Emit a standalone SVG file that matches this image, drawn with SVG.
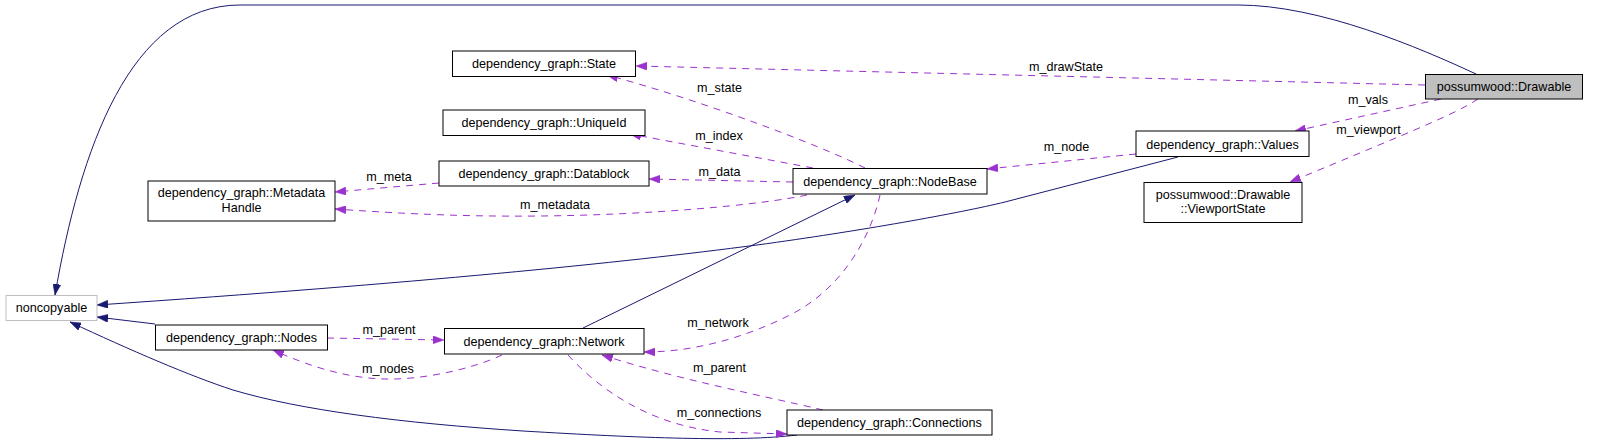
<svg xmlns="http://www.w3.org/2000/svg" width="1605" height="446" viewBox="0 0 1605 446">
<style>
  .box { fill: #ffffff; stroke: #000000; stroke-width: 1; }
  .root { fill: #bfbfbf; stroke: #000000; stroke-width: 1; }
  .ext { fill: #ffffff; stroke: #bfbfbf; stroke-width: 1; }
  text { font-family: "Liberation Sans", Arial, sans-serif; font-size: 12.6px; fill: #000000; text-anchor: middle; }
  .inh { fill: none; stroke: #191970; stroke-width: 1; marker-end: url(#arrNavy); }
  .use { fill: none; stroke: #9a32cd; stroke-width: 1; stroke-dasharray: 7,6; marker-end: url(#arrPurple); }
</style>
<defs>
  <marker id="arrNavy" viewBox="0 0 11 8" refX="11" refY="4" markerWidth="11" markerHeight="8" markerUnits="userSpaceOnUse" orient="auto">
    <path d="M0,0 L11,4 L0,8 z" fill="#191970" stroke="#191970" stroke-width="0.5"/>
  </marker>
  <marker id="arrPurple" viewBox="0 0 11 8" refX="11" refY="4" markerWidth="11" markerHeight="8" markerUnits="userSpaceOnUse" orient="auto">
    <path d="M0,0 L11,4 L0,8 z" fill="#9a32cd" stroke="#9a32cd" stroke-width="0.5"/>
  </marker>
</defs>
<rect x="0" y="0" width="1605" height="446" fill="#ffffff"/>

<g id="connectors">
  <path class="inh" d="M1476,74 C1420,48 1320,5 1238,5 L240,5 C130,5 80,150 55,295"/>
  <path class="inh" d="M1178,157 L1005,202 C960,213 860,231 757,245 C620,263 420,283 97,305"/>
  <path class="inh" d="M155,324 L97,317"/>
  <path class="inh" d="M797,435 C740,442 640,438 523,431 C400,423 300,410 233,390 C190,376 130,350 70,322"/>
  <path class="inh" d="M583,328 L855,195"/>

  <path class="use" d="M1425,85 L636,66"/>
  <text x="1066" y="70.5">m_drawState</text>
  <path class="use" d="M1441,99 L1295,131"/>
  <text x="1368" y="104">m_vals</text>
  <path class="use" d="M1478,99 C1455,114 1420,128 1290,182"/>
  <text x="1368.5" y="134">m_viewport</text>
  <path class="use" d="M1136,154 L987,169"/>
  <text x="1066.5" y="151">m_node</text>
  <path class="use" d="M865,168 C820,145 700,100 607,75"/>
  <text x="719.5" y="91.5">m_state</text>
  <path class="use" d="M813,168 L630,134"/>
  <text x="719" y="139.5">m_index</text>
  <path class="use" d="M793,182 L649,179"/>
  <text x="719.5" y="176">m_data</text>
  <path class="use" d="M439,183 L335,192"/>
  <text x="389" y="180.5">m_meta</text>
  <path class="use" d="M807,195 C760,205 650,215 540,216 C450,217 380,212 335,209"/>
  <text x="555" y="209">m_metadata</text>
  <path class="use" d="M327,338 L444,340"/>
  <text x="389" y="334">m_parent</text>
  <path class="use" d="M502,355 C470,370 420,380 385,379 C340,378 300,362 273,350"/>
  <text x="388" y="372.5">m_nodes</text>
  <path class="use" d="M880,195 C870,240 840,290 790,315 C740,340 690,352 644,352"/>
  <text x="718" y="327">m_network</text>
  <path class="use" d="M823,410 C760,395 680,380 602,355"/>
  <text x="719.5" y="371.5">m_parent</text>
  <path class="use" d="M568,355 C600,390 650,425 720,432 L787,434"/>
  <text x="719" y="416.5">m_connections</text>
</g>

<g id="node-drawable">
  <rect class="root" x="1425.5" y="74.5" width="157" height="24.5"/>
  <text x="1504" y="91">possumwood::Drawable</text>
</g>
<g id="node-state">
  <rect class="box" x="452.5" y="51" width="183" height="25.5"/>
  <text x="544" y="67.5">dependency_graph::State</text>
</g>
<g id="node-uniqueid">
  <rect class="box" x="443" y="110" width="202" height="25.5"/>
  <text x="544" y="127">dependency_graph::UniqueId</text>
</g>
<g id="node-datablock">
  <rect class="box" x="439" y="161" width="210" height="25"/>
  <text x="544" y="178">dependency_graph::Datablock</text>
</g>
<g id="node-metadatahandle">
  <rect class="box" x="148" y="181" width="187" height="40"/>
  <text x="241.5" y="197">dependency_graph::Metadata</text>
  <text x="241.5" y="211.5">Handle</text>
</g>
<g id="node-nodebase">
  <rect class="box" x="793" y="168.5" width="194" height="25.5"/>
  <text x="890" y="185.5">dependency_graph::NodeBase</text>
</g>
<g id="node-values">
  <rect class="box" x="1136" y="131" width="173" height="25.5"/>
  <text x="1222.5" y="148.5">dependency_graph::Values</text>
</g>
<g id="node-viewportstate">
  <rect class="box" x="1144" y="182.5" width="158" height="40"/>
  <text x="1223" y="198.5">possumwood::Drawable</text>
  <text x="1223" y="213">::ViewportState</text>
</g>
<g id="node-noncopyable">
  <rect class="ext" x="6" y="295.5" width="91" height="25"/>
  <text x="51.5" y="312">noncopyable</text>
</g>
<g id="node-nodes">
  <rect class="box" x="155.5" y="325" width="172" height="25"/>
  <text x="241.5" y="342">dependency_graph::Nodes</text>
</g>
<g id="node-network">
  <rect class="box" x="444.5" y="328.5" width="199.5" height="25.5"/>
  <text x="544" y="345.5">dependency_graph::Network</text>
</g>
<g id="node-connections">
  <rect class="box" x="787" y="410" width="205" height="25"/>
  <text x="889.5" y="427">dependency_graph::Connections</text>
</g>
</svg>
